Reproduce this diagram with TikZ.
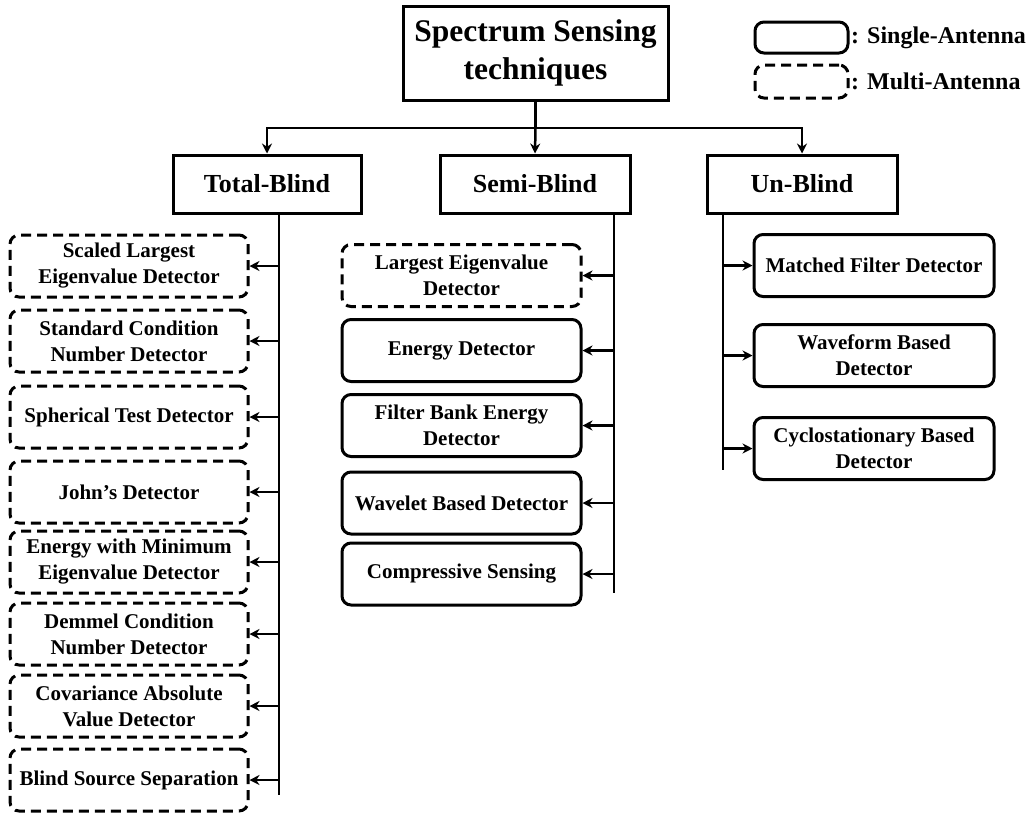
\documentclass[tikz,border=0pt]{standalone}
\usepackage{fontspec}
\setmainfont{Liberation Serif}
\usetikzlibrary{arrows.meta,calc}
\begin{document}
\begin{tikzpicture}[x=1pt,y=-1pt,
  every node/.style={font=\bfseries\fontsize{21}{26}\selectfont, align=center, inner sep=0pt},
  sqbox/.style={draw, line width=3pt, rectangle},
  solidbox/.style={draw, line width=3pt, rounded corners=9pt, rectangle},
  dashbox/.style={draw, line width=3pt, rounded corners=9pt, rectangle, dash pattern=on 10pt off 6pt},
  leafL/.style={minimum width=238pt, minimum height=62pt},
  leafM/.style={minimum width=239pt, minimum height=62pt},
  leafR/.style={minimum width=240pt, minimum height=62pt},
  midfont/.style={font=\bfseries\fontsize{26}{31}\selectfont},
  conn/.style={line width=2.8pt},
  arr/.style={line width=2.5pt, -{Stealth[length=10pt,width=10pt]}}
]
\useasboundingbox (0,0) rectangle (1032,815);

% top
\node[sqbox, minimum width=265pt, minimum height=94pt, font=\bfseries\fontsize{31.5}{38}\selectfont] (top) at (535.5,53) {Spectrum Sensing\\techniques};

% legend
\node[solidbox, minimum width=93pt, minimum height=31pt] (lg1) at (801.5,37.5) {};
\node[dashbox, minimum width=93pt, minimum height=33pt] (lg2) at (801.5,81.5) {};
\node[anchor=west, font=\bfseries\fontsize{24}{28}\selectfont] (lt1) at (851,37.5) {: Single-Antenna};
\node[anchor=west, font=\bfseries\fontsize{24}{28}\selectfont] (lt2) at (851,81.5) {: Multi-Antenna};

% level 2
\node[sqbox, midfont, minimum width=188pt, minimum height=58pt] (tb) at (267,184) {Total-Blind};
\node[sqbox, midfont, minimum width=190pt, minimum height=58pt] (sb) at (535,184) {Semi-Blind};
\node[sqbox, midfont, minimum width=190pt, minimum height=58pt] (ub) at (802,184) {Un-Blind};

\coordinate (split) at (535.5,128);
\draw[conn] (top.south) -- (split);
\draw[arr] (split) -| (tb.north);
\draw[arr] (split) -- (sb.north);
\draw[arr] (split) -| (ub.north);

% left column
\node[dashbox, leafL] (l1) at (129,266) {Scaled Largest\\Eigenvalue Detector};
\node[dashbox, leafL] (l2) at (129,341) {Standard Condition\\Number Detector};
\node[dashbox, leafL] (l3) at (129,417) {Spherical Test Detector};
\node[dashbox, leafL] (l4) at (129,492) {John's Detector};
\node[dashbox, leafL] (l5) at (129,562) {Energy with Minimum\\Eigenvalue Detector};
\node[dashbox, leafL] (l6) at (129,634) {Demmel Condition\\Number Detector};
\node[dashbox, leafL] (l7) at (129,706) {Covariance Absolute\\Value Detector};
\node[dashbox, leafL] (l8) at (129,780) {Blind Source Separation};

\coordinate (tbt) at (279,213);
\coordinate (tbe) at (279,795);
\draw[conn] (tbt) -- (tbe);
\foreach \n in {l1,l2,l3,l4,l5,l6,l7,l8}{
  \draw[arr] (tbt |- \n.east) -- (\n.east);
}

% middle column
\node[dashbox, leafM] (m1) at (461.5,275.5) {Largest Eigenvalue\\Detector};
\node[solidbox, leafM] (m2) at (461.5,350.5) {Energy Detector};
\node[solidbox, leafM] (m3) at (461.5,425.5) {Filter Bank Energy\\Detector};
\node[solidbox, leafM] (m4) at (461.5,503) {Wavelet Based Detector};
\node[solidbox, leafM] (m5) at (461.5,574) {Compressive Sensing};

\coordinate (sbt) at (614,213);
\coordinate (sbe) at (614,593);
\draw[conn] (sbt) -- (sbe);
\foreach \n in {m1,m2,m3,m4,m5}{
  \draw[arr] (sbt |- \n.east) -- (\n.east);
}

% right column
\node[solidbox, leafR] (r1) at (874,265.5) {Matched Filter Detector};
\node[solidbox, leafR] (r2) at (874,355.5) {Waveform Based\\Detector};
\node[solidbox, leafR] (r3) at (874,448.5) {Cyclostationary Based\\Detector};

\coordinate (ubt) at (723,213);
\coordinate (ube) at (723,470);
\draw[conn] (ubt) -- (ube);
\foreach \n in {r1,r2,r3}{
  \draw[arr] (ubt |- \n.west) -- (\n.west);
}
\end{tikzpicture}
\end{document}
